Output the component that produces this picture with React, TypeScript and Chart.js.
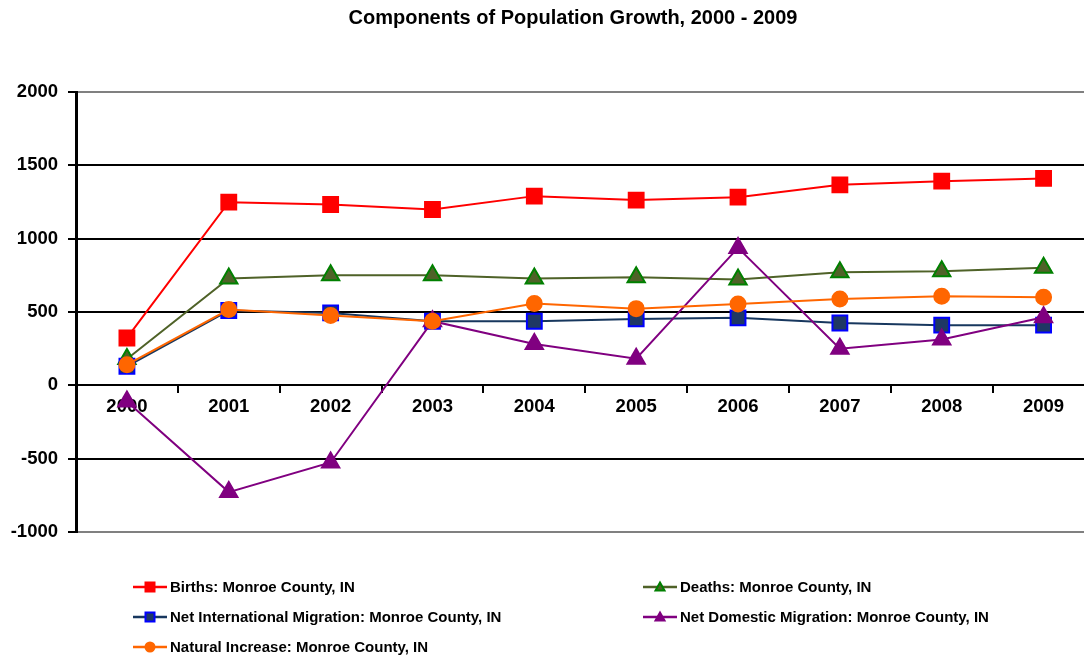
import React, { useEffect, useRef } from 'react';
import { Chart, registerables } from 'chart.js';

Chart.register(...registerables);

const years = ['2000', '2001', '2002', '2003', '2004', '2005', '2006', '2007', '2008', '2009'];
const births = [323, 1249, 1233, 1199, 1290, 1263, 1283, 1367, 1392, 1411];
const deaths = [180, 728, 751, 751, 728, 737, 721, 771, 778, 801];
const netInternational = [130, 510, 494, 437, 437, 453, 460, 425, 410, 410];
const netDomestic = [-110, -728, -526, 437, 282, 182, 937, 250, 312, 464];
const naturalIncrease = [141, 517, 476, 437, 558, 523, 555, 589, 608, 601];
const yTickValues = [-1000, -500, 0, 500, 1000, 1500, 2000];

const titleText = 'Components of Population Growth, 2000 - 2009';
const seriesLabels = [
  'Births: Monroe County, IN',
  'Deaths: Monroe County, IN',
  'Net International Migration: Monroe County, IN',
  'Net Domestic Migration: Monroe County, IN',
  'Natural Increase: Monroe County, IN',
];

const FONT = "'Liberation Sans', Arial, sans-serif";

type Style = {
  line: string;
  fill: string;
  border: string;
  shape: 'rect' | 'triangle' | 'circle';
};

const styles: Style[] = [
  { line: '#FF0000', fill: '#FF0000', border: '#FF0000', shape: 'rect' },
  { line: '#4F6228', fill: '#4F6228', border: '#008000', shape: 'triangle' },
  { line: '#17375E', fill: '#1F3864', border: '#0000FF', shape: 'rect' },
  { line: '#800080', fill: '#800080', border: '#800080', shape: 'triangle' },
  { line: '#FF6600', fill: '#FF6600', border: '#FF6600', shape: 'circle' },
];

function drawMarker(ctx: CanvasRenderingContext2D, s: Style, x: number, y: number, size: number) {
  ctx.save();
  ctx.fillStyle = s.fill;
  ctx.strokeStyle = s.border;
  ctx.lineWidth = 2;
  ctx.beginPath();
  const h = size / 2;
  if (s.shape === 'rect') {
    ctx.rect(x - h, y - h, size, size);
  } else if (s.shape === 'triangle') {
    ctx.moveTo(x, y - h);
    ctx.lineTo(x + h, y + h * 0.8);
    ctx.lineTo(x - h, y + h * 0.8);
    ctx.closePath();
  } else {
    ctx.arc(x, y, h, 0, Math.PI * 2);
  }
  ctx.fill();
  ctx.stroke();
  ctx.restore();
}

const titleLegendPlugin = {
  id: 'titleLegend',
  afterDraw(chart: any) {
    const ctx: CanvasRenderingContext2D = chart.ctx;
    ctx.save();
    ctx.fillStyle = '#000';
    ctx.font = `bold 20px ${FONT}`;
    ctx.textAlign = 'center';
    ctx.textBaseline = 'middle';
    ctx.fillText(titleText, 573, 18);

    const positions = [
      { x: 133, y: 587 },
      { x: 643, y: 587 },
      { x: 133, y: 617 },
      { x: 643, y: 617 },
      { x: 133, y: 647 },
    ];
    ctx.font = `bold 15px ${FONT}`;
    ctx.textAlign = 'left';
    seriesLabels.forEach((label, i) => {
      const p = positions[i];
      const s = styles[i];
      ctx.strokeStyle = s.line;
      ctx.lineWidth = 2.5;
      ctx.beginPath();
      ctx.moveTo(p.x, p.y);
      ctx.lineTo(p.x + 34, p.y);
      ctx.stroke();
      drawMarker(ctx, s, p.x + 17, p.y, 9);
      ctx.fillStyle = '#000';
      ctx.fillText(label, p.x + 37, p.y + 1);
    });
    ctx.restore();
  },
};

export default function App() {
  const ref = useRef<HTMLCanvasElement | null>(null);

  useEffect(() => {
    document.body.style.margin = '0';
    document.body.style.overflow = 'hidden';
    const canvas = ref.current;
    if (!canvas) return;
    const seriesData = [births, deaths, netInternational, netDomestic, naturalIncrease];
    const orders = [5, 4, 3, 2, 1];
    const datasets = seriesData.map((data, i) => {
      const s = styles[i];
      const r = s.shape === 'rect' ? 10.5 : s.shape === 'triangle' ? 10 : 7.5;
      return {
        label: seriesLabels[i],
        data,
        borderColor: s.line,
        borderWidth: 2,
        backgroundColor: s.fill,
        pointBackgroundColor: s.fill,
        pointBorderColor: s.border,
        pointBorderWidth: 2,
        pointStyle: s.shape,
        pointRadius: r,
        pointHoverRadius: r,
        tension: 0,
        fill: false,
        order: orders[i],
      };
    });

    const chart = new Chart(canvas, {
      type: 'line',
      data: { labels: years, datasets },
      options: {
        responsive: false,
        animation: false,
        layout: { padding: { top: 92, bottom: 127, left: 0, right: 5 } },
        plugins: {
          legend: { display: false },
          title: { display: false },
          tooltip: { enabled: false },
        },
        scales: {
          x: {
            position: { y: 0 },
            offset: true,
            grid: {
              offset: true,
              drawOnChartArea: false,
              tickLength: 7,
              color: '#000',
              lineWidth: 2,
            },
            border: { color: '#000', width: 2 },
            ticks: {
              font: { family: FONT, size: 18.5, weight: 'bold' },
              color: '#000',
              padding: 3,
              maxRotation: 0,
              autoSkip: false,
            },
          },
          y: {
            min: -1000,
            max: 2000,
            afterBuildTicks: (scale: any) => {
              scale.ticks = yTickValues.map((v) => ({ value: v }));
            },
            afterFit: (scale: any) => {
              scale.width = 76;
            },
            ticks: {
              font: { family: FONT, size: 18.5, weight: 'bold' },
              color: '#000',
              padding: 10,
              callback: (v: any) => String(v),
            },
            grid: {
              color: (c: any) =>
                c.tick && (c.tick.value === 2000 || c.tick.value === -1000) ? '#808080' : '#000',
              tickColor: '#000',
              lineWidth: 2,
              tickLength: 8,
            },
            border: { color: '#000', width: 3 },
          },
        },
      },
      plugins: [titleLegendPlugin],
    } as any);

    return () => chart.destroy();
  }, []);

  return (
    <div style={{ width: 1084, height: 659, overflow: 'hidden', position: 'relative', background: '#fff' }}>
      <canvas ref={ref} width={1107} height={659} style={{ display: 'block' }} />
    </div>
  );
}
